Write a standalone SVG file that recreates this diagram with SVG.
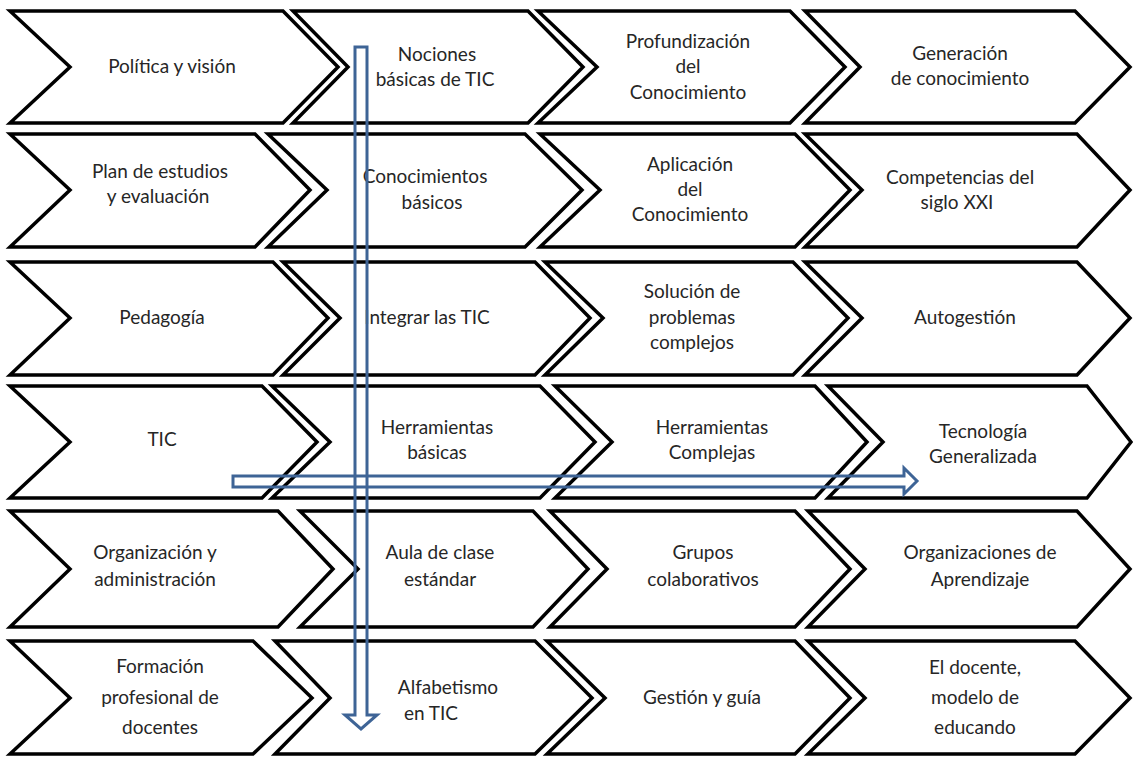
<svg xmlns="http://www.w3.org/2000/svg" width="1133" height="759" viewBox="0 0 1133 759">
<style>
.ch{fill:#fff;stroke:#000;stroke-width:3.5;stroke-linejoin:miter}
.t{font-family:Lato,"Open Sans",sans-serif;font-size:19px;fill:#262626;text-anchor:middle}
.ar{fill:none;stroke:#3e6496;stroke-width:3;stroke-linejoin:miter}
</style>
<rect width="1133" height="759" fill="#fff"/>
<!-- Row 1 -->
<g id="r1c1"><polygon class="ch" points="10,11 283,11 338,67 283,123 10,123 70,67"/><text class="t" x="172" y="73">Política y visión</text></g>
<g id="r1c2"><polygon class="ch" points="293,11 528,11 583,67 528,123 293,123 348,67"/><text class="t" x="437" y="61">Nociones</text><text class="t" x="435" y="86">básicas de TIC</text></g>
<g id="r1c3"><polygon class="ch" points="538,11 790,11 845,67 790,123 538,123 597,67"/><text class="t" x="688" y="48">Profundización</text><text class="t" x="688" y="73">del</text><text class="t" x="688" y="99">Conocimiento</text></g>
<g id="r1c4"><polygon class="ch" points="805,11 1075,11 1130,67 1075,123 805,123 860,67"/><text class="t" x="960" y="60">Generación</text><text class="t" x="960" y="85">de conocimiento</text></g>
<!-- Row 2 -->
<g id="r2c1"><polygon class="ch" points="10,134 255,134 310,190 255,247 10,247 70,190"/><text class="t" x="160" y="178">Plan de estudios</text><text class="t" x="158" y="203">y evaluación</text></g>
<g id="r2c2"><polygon class="ch" points="268,134 525,134 582,190 525,247 268,247 327,190"/><text class="t" x="425" y="183">Conocimientos</text><text class="t" x="432" y="209">básicos</text></g>
<g id="r2c3"><polygon class="ch" points="540,134 795,134 850,190 795,247 540,247 600,190"/><text class="t" x="690" y="171">Aplicación</text><text class="t" x="690" y="196">del</text><text class="t" x="690" y="221">Conocimiento</text></g>
<g id="r2c4"><polygon class="ch" points="805,134 1077,134 1130,190 1077,247 805,247 862,190"/><text class="t" x="960" y="184">Competencias del</text><text class="t" x="957" y="209">siglo XXI</text></g>
<!-- Row 3 -->
<g id="r3c1"><polygon class="ch" points="10,262 273,262 328,318 273,375 10,375 70,318"/><text class="t" x="162" y="324">Pedagogía</text></g>
<g id="r3c2"><polygon class="ch" points="283,262 535,262 590,318 535,375 283,375 340,318"/><text class="t" x="427" y="324">Integrar las TIC</text></g>
<g id="r3c3"><polygon class="ch" points="545,262 793,262 848,318 793,375 545,375 603,318"/><text class="t" x="692" y="298">Solución de</text><text class="t" x="692" y="324">problemas</text><text class="t" x="692" y="349">complejos</text></g>
<g id="r3c4"><polygon class="ch" points="805,262 1077,262 1130,318 1077,375 805,375 862,318"/><text class="t" x="965" y="324">Autogestión</text></g>
<!-- Row 4 -->
<g id="r4c1"><polygon class="ch" points="10,386 262,386 317,442 262,498 10,498 70,442"/><text class="t" x="162" y="446">TIC</text></g>
<g id="r4c2"><polygon class="ch" points="272,386 540,386 595,442 540,498 272,498 330,442"/><text class="t" x="437" y="434">Herramientas</text><text class="t" x="437" y="459">básicas</text></g>
<g id="r4c3"><polygon class="ch" points="555,386 815,386 867,442 815,498 555,498 612,442"/><text class="t" x="712" y="434">Herramientas</text><text class="t" x="712" y="459">Complejas</text></g>
<g id="r4c4"><polygon class="ch" points="828,386 1087,386 1131,442 1087,498 828,498 883,442"/><text class="t" x="983" y="438">Tecnología</text><text class="t" x="983" y="463">Generalizada</text></g>
<!-- Row 5 -->
<g id="r5c1"><polygon class="ch" points="10,511 278,511 333,569 278,627 10,627 70,569"/><text class="t" x="155" y="559">Organización y</text><text class="t" x="155" y="586">administración</text></g>
<g id="r5c2"><polygon class="ch" points="300,511 533,511 588,569 533,627 300,627 358,569"/><text class="t" x="440" y="559">Aula de clase</text><text class="t" x="440" y="586">estándar</text></g>
<g id="r5c3"><polygon class="ch" points="550,511 795,511 850,569 795,627 550,627 607,569"/><text class="t" x="703" y="559">Grupos</text><text class="t" x="703" y="586">colaborativos</text></g>
<g id="r5c4"><polygon class="ch" points="808,511 1077,511 1130,569 1077,627 808,627 865,569"/><text class="t" x="980" y="559">Organizaciones de</text><text class="t" x="980" y="586">Aprendizaje</text></g>
<!-- Row 6 -->
<g id="r6c1"><polygon class="ch" points="10,641 253,641 312,698 253,754 10,754 70,698"/><text class="t" x="160" y="673">Formación</text><text class="t" x="160" y="704">profesional de</text><text class="t" x="160" y="734">docentes</text></g>
<g id="r6c2"><polygon class="ch" points="275,641 535,641 592,698 535,754 275,754 330,698"/><text class="t" x="448" y="694">Alfabetismo</text><text class="t" x="431" y="720">en TIC</text></g>
<g id="r6c3"><polygon class="ch" points="547,641 795,641 850,698 795,754 547,754 605,698"/><text class="t" x="702" y="704">Gestión y guía</text></g>
<g id="r6c4"><polygon class="ch" points="808,641 1075,641 1130,698 1075,754 808,754 865,698"/><text class="t" x="975" y="674">El docente,</text><text class="t" x="975" y="704">modelo de</text><text class="t" x="975" y="734">educando</text></g>
<!-- Connectors -->
<g id="connectors">
<polygon class="ar" points="355,47 367,47 367,715 377,715 361,729 345,715 355,715"/>
<polygon class="ar" points="233,476 904,476 904,468 917,481 904,494 904,487 233,487"/>
</g>
</svg>
